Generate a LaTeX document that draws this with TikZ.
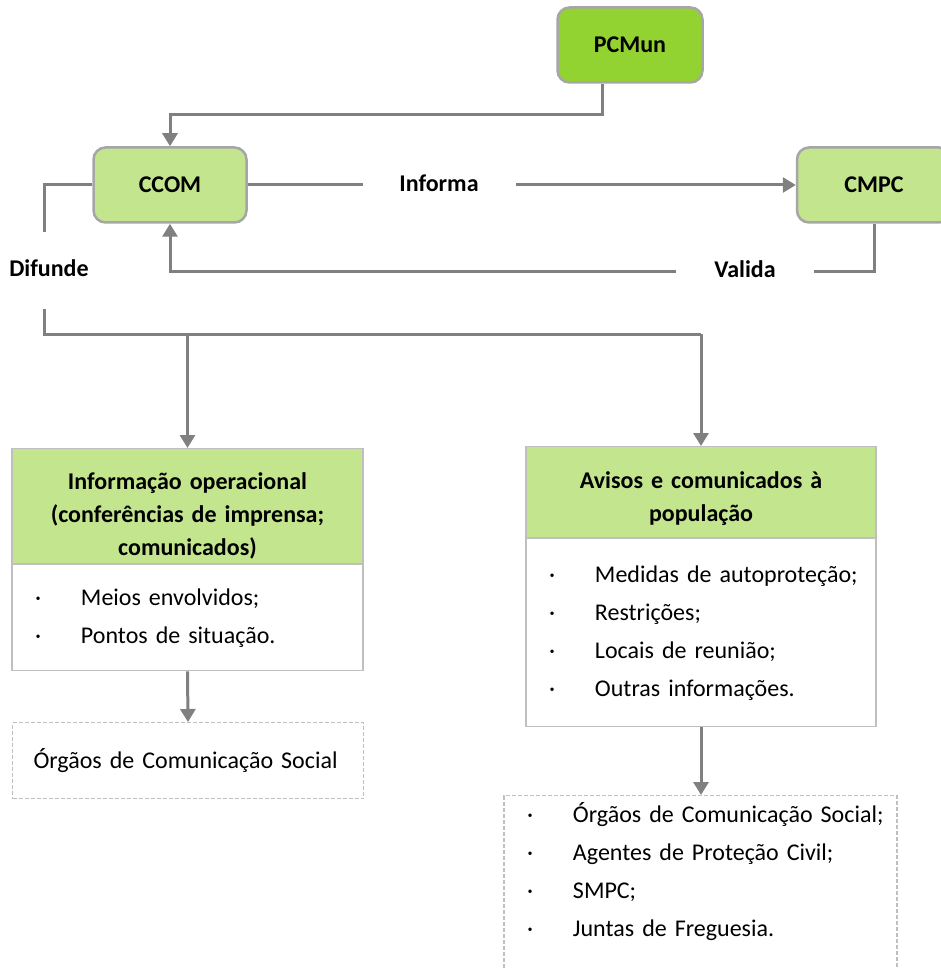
\documentclass[tikz,border=0pt]{standalone}
\usepackage{fontspec}
\setmainfont{Carlito}
\usetikzlibrary{arrows.meta, positioning}
\definecolor{pcgreen}{HTML}{92D332}
\definecolor{lightgreen}{HTML}{C3E58D}
\definecolor{roundbd}{HTML}{A6A6A6}
\definecolor{thinbd}{HTML}{BFBFBF}
\definecolor{wiregray}{HTML}{808080}
\newcommand{\bigfont}{\fontsize{24}{33}\selectfont}
\newcommand{\listfont}{\fontsize{24}{38}\selectfont}
\newcommand{\bul}[1]{\mbox{\makebox[46pt][l]{\textperiodcentered}#1}}
\tikzset{
  rbox/.style={draw=roundbd, rounded corners=12pt, line width=2.5pt, align=center,
    minimum height=75pt, font=\bigfont\bfseries},
  hbox/.style={draw=thinbd, fill=lightgreen, line width=1.2pt, align=center,
    inner xsep=10pt, inner ysep=0pt, anchor=north, font=\bigfont\bfseries},
  lbox/.style={draw=thinbd, fill=white, line width=1.2pt, align=left,
    inner xsep=23pt, font=\listfont},
  dbox/.style={draw=thinbd, dashed, dash pattern=on 4pt off 2pt, line width=1.2pt,
    align=left, font=\listfont},
  lab/.style={font=\bigfont\bfseries, inner sep=0pt},
  wire/.style={draw=wiregray, line width=3pt},
  flow/.style={wire, -{Triangle[width=15pt,length=13pt]}}
}
\begin{document}
\begin{tikzpicture}[x=1pt, y=-1pt]
\useasboundingbox (0,0) rectangle (940,968);
% top row
\node[rbox, fill=pcgreen, minimum width=145pt] (pcmun) at (630,45) {PCMun};
\node[rbox, fill=lightgreen, minimum width=153pt] (ccom) at (170,185) {CCOM};
\node[rbox, fill=lightgreen, minimum width=154pt] (cmpc) at (874,185) {CMPC};
\node[lab] (informa) at (439,183) {Informa};
\node[lab] (valida) at (745,269) {Valida};
\node[lab] (difunde) at (49,268) {Difunde};
\coordinate (inf1) at (363,185);
\coordinate (inf2) at (516,185);
\coordinate (val1) at (814,271);
\coordinate (val2) at (676,271);
\coordinate (dif1) at (44,232);
\coordinate (dif2) at (44,309);
\coordinate (bus) at (44,334);
% left column
\node[hbox, text width=331pt, text height=41pt, text depth=74pt] (info) at (187.5,448)
  {Informação operacional\\(conferências de imprensa;\\comunicados)};
\node[lbox, text width=305pt, minimum height=106pt, anchor=north] (infobody) at (info.south)
  {\bul{Meios envolvidos;}\\\bul{Pontos de situação.}};
\node[dbox, text width=309pt, inner xsep=21pt, minimum height=76pt, anchor=north] (orgaos) at (188,722)
  {Órgãos de Comunicação Social};
% right column
\node[hbox, text width=330pt, text height=42pt, text depth=49pt] (avisos) at (701,446)
  {Avisos e comunicados à\\população};
\node[lbox, text width=304pt, minimum height=188pt, anchor=north] (avisbody) at (avisos.south)
  {\bul{Medidas de autoproteção;}\\\bul{Restrições;}\\\bul{Locais de reunião;}\\\bul{Outras informações.}};
\node[dbox, text width=347pt, inner xsep=23pt, inner ysep=5pt, text height=22pt, text depth=190pt,
  anchor=north] (destinos) at (700.5,795)
  {\bul{Órgãos de Comunicação Social;}\\\bul{Agentes de Proteção Civil;}\\\bul{SMPC;}\\\bul{Juntas de Freguesia.}};
% connectors
\draw[flow] ([xshift=-28pt]pcmun.south) -- ++(0,31) -| (ccom.north);
\draw[wire] (ccom.east) -- (inf1);
\draw[flow] (inf2) -- (cmpc.west);
\draw[wire] (cmpc.south) |- (val1);
\draw[flow] (val2) -| (ccom.south);
\draw[wire] (ccom.west) -| (dif1);
\draw[wire] (dif2) -- (bus) -- (bus -| avisos.north);
\draw[flow] (bus -| info.north) -- (info.north);
\draw[flow] (bus -| avisos.north) -- (avisos.north);
\draw[flow] (infobody.south) -- (orgaos.north);
\draw[flow] (avisbody.south) -- (avisbody.south |- destinos.north);
\end{tikzpicture}
\end{document}
